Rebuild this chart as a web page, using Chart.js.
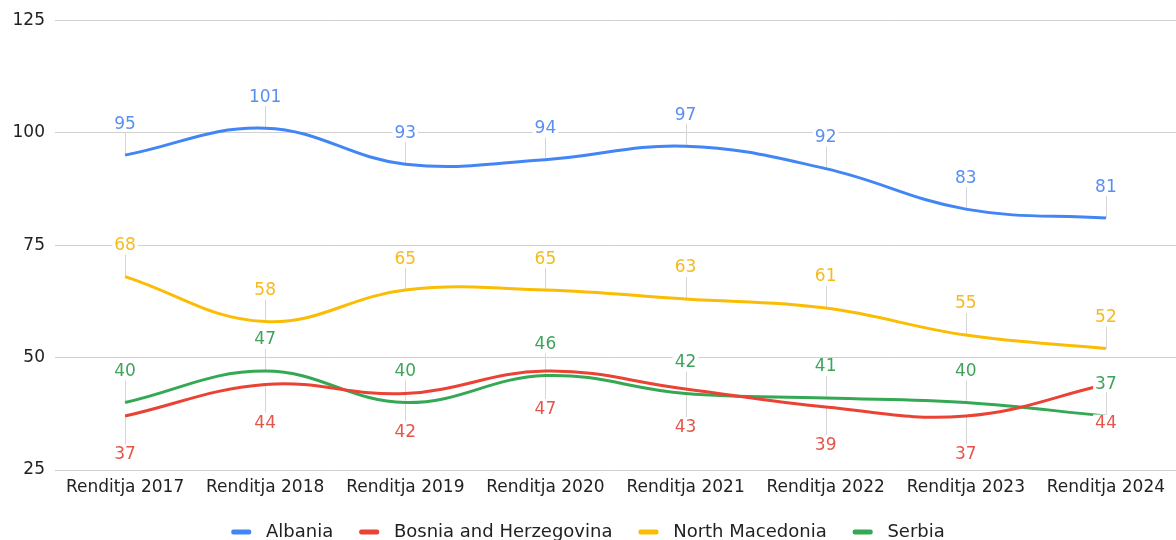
<!DOCTYPE html>
<html>
<head>
<meta charset="utf-8">
<script src="https://cdn.jsdelivr.net/npm/chart.js@4/dist/chart.umd.min.js"></script>
<style>
  html, body { margin: 0; padding: 0; background: #fff; }
  #wrap { width: 1176px; height: 540px; position: relative; }
</style>
</head>
<body>
<div id="wrap"><canvas id="chart"></canvas></div>
<script>
/* Rankings chart — Western Balkans */

const years = ['Renditja 2017', 'Renditja 2018', 'Renditja 2019', 'Renditja 2020',
               'Renditja 2021', 'Renditja 2022', 'Renditja 2023', 'Renditja 2024'];
const albania        = [95, 101, 93, 94, 97, 92, 83, 81];
const bosnia         = [37, 44, 42, 47, 43, 39, 37, 44];
const northMacedonia = [68, 58, 65, 65, 63, 61, 55, 52];
const serbia         = [40, 47, 40, 46, 42, 41, 40, 37];
const yTicks = [25, 50, 75, 100, 125];

const FONT = '"DejaVu Sans", "Liberation Sans", Arial, sans-serif';

const series = [
    { label: 'Albania', data: albania, color: '#4285f4', text: '#5a8ff2', pos: 'above' },
    { label: 'Bosnia and Herzegovina', data: bosnia, color: '#ea4335', text: '#e5564a', pos: 'below' },
    { label: 'North Macedonia', data: northMacedonia, color: '#fbbc04', text: '#f5bb1c', pos: 'above' },
    { label: 'Serbia', data: serbia, color: '#34a853', text: '#3fa35a', pos: 'above' },
];

// value labels with thin grey leader lines
const pointLabels = {
    id: 'pointLabels',
    beforeDatasetsDraw(chart) {
        const ctx = chart.ctx;
        ctx.save();
        ctx.strokeStyle = '#d6d6d6';
        ctx.lineWidth = 1;
        chart.data.datasets.forEach((ds, i) => {
            chart.getDatasetMeta(i).data.forEach(pt => {
                const x = Math.round(pt.x) + 0.5;
                ctx.beginPath();
                if (ds.labelPos === 'below') { ctx.moveTo(x, pt.y); ctx.lineTo(x, pt.y + 28); }
                else { ctx.moveTo(x, pt.y); ctx.lineTo(x, pt.y - 22); }
                ctx.stroke();
            });
        });
        ctx.restore();
    },
    afterDatasetsDraw(chart) {
        const ctx = chart.ctx;
        ctx.save();
        ctx.font = '17px ' + FONT;
        ctx.textAlign = 'center';
        ctx.textBaseline = 'middle';
        chart.data.datasets.forEach((ds, i) => {
            chart.getDatasetMeta(i).data.forEach((pt, j) => {
                const txt = String(ds.data[j]);
                const y = ds.labelPos === 'below' ? pt.y + 38 : pt.y - 32;
                const w = ctx.measureText(txt).width;
                ctx.fillStyle = '#fff';
                ctx.fillRect(pt.x - w / 2 - 2, y - 8, w + 4, 16);
                ctx.fillStyle = ds.labelColor;
                ctx.fillText(txt, pt.x, y + 1);
            });
        });
        ctx.restore();
    }
};

new Chart(document.getElementById('chart'), {
    type: 'line',
    data: {
        labels: years,
        datasets: series.map(s => ({
            label: s.label, data: s.data, borderColor: s.color, backgroundColor: s.color,
            borderWidth: 3, pointRadius: 0, pointHoverRadius: 0, tension: 0.4, fill: false,
            labelPos: s.pos, labelColor: s.text
        }))
    },
    options: {
        responsive: true, maintainAspectRatio: false, animation: false,
        layout: { padding: { top: 10, right: 0, bottom: 0, left: 0 } },
        plugins: {
            tooltip: { enabled: false },
            legend: {
                position: 'bottom',
                maxHeight: 43,
                labels: {
                    color: '#222', font: { family: FONT, size: 18 },
                    boxWidth: 20, boxHeight: 5, padding: 26,
                    useBorderRadius: true, borderRadius: 2,
                    generateLabels(chart) {
                        return chart.data.datasets.map((d, i) => ({
                            text: ' ' + d.label, fillStyle: d.borderColor, strokeStyle: d.borderColor,
                            lineWidth: 0, borderRadius: 2, datasetIndex: i, fontColor: '#222'
                        }));
                    }
                }
            }
        },
        scales: {
            x: {
                offset: true,
                grid: { display: false, drawTicks: false },
                border: { display: false },
                ticks: { color: '#222', font: { family: FONT, size: 17 }, padding: 7, maxRotation: 0, autoSkip: false },
                afterFit(scale) { scale.height = 27; }
            },
            y: {
                min: 25, max: 125,
                afterBuildTicks(scale) { scale.ticks = yTicks.map(v => ({ value: v })); },
                grid: { color: '#d0d0d0', lineWidth: 1, drawTicks: false },
                border: { display: false },
                ticks: { color: '#222', font: { family: FONT, size: 17 }, padding: 10 },
                afterFit(scale) { scale.width = 55; }
            }
        }
    },
    plugins: [pointLabels]
});
</script>
</body>
</html>
